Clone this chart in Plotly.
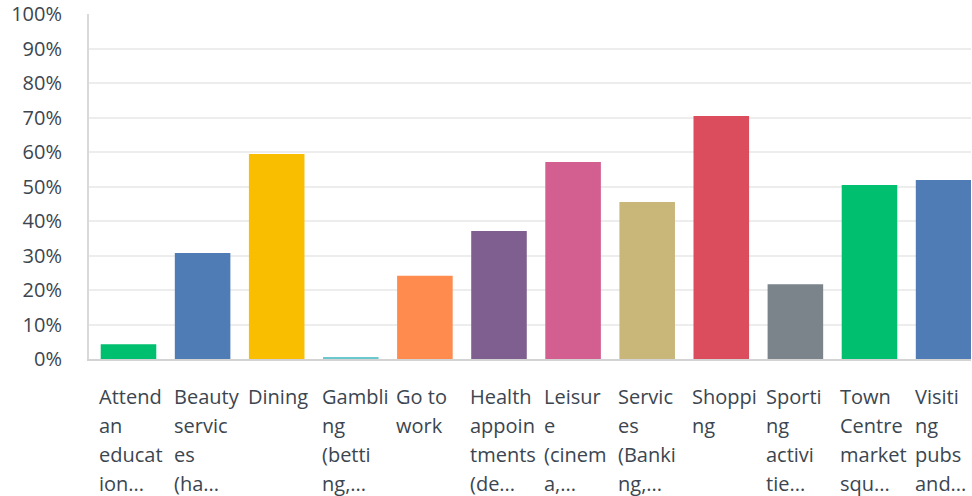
import plotly.graph_objects as go

# answer options, as wrapped/truncated in the survey chart
categories = [
    "Attend an education...",
    "Beauty services (ha...",
    "Dining",
    "Gambling (betting,...",
    "Go to work",
    "Health appointments (de...",
    "Leisure (cinema,...",
    "Services (Banking,...",
    "Shopping",
    "Sporting activitie...",
    "Town Centre market squ...",
    "Visiting pubs and...",
]
label_lines = [
    ["Attend", "an", "educat", "ion..."],
    ["Beauty", "servic", "es", "(ha..."],
    ["Dining"],
    ["Gambli", "ng", "(betti", "ng,..."],
    ["Go to", "work"],
    ["Health", "appoin", "tments", "(de..."],
    ["Leisur", "e", "(cinem", "a,..."],
    ["Servic", "es", "(Banki", "ng,..."],
    ["Shoppi", "ng"],
    ["Sporti", "ng", "activi", "tie..."],
    ["Town", "Centre", "market", "squ..."],
    ["Visiti", "ng", "pubs", "and..."],
]
percent = [4.3, 30.7, 59.4, 0.3, 24.1, 37.1, 57.1, 45.5, 70.4, 21.7, 50.4, 51.9]
colors = [
    "#00BF6F", "#507CB6", "#F9BE00", "#6BC8CD", "#FF8B4F", "#7F5F90",
    "#D25F90", "#C9B77A", "#DB4D5C", "#7B848B", "#00BF6F", "#507CB6",
]
y_ticks = list(range(0, 101, 10))

FONT = "Open Sans"
TEXT_COLOR = "#3b4650"
LINE_STEP = 29

fig = go.Figure()
fig.add_trace(go.Bar(
    x=list(range(len(categories))),
    y=percent,
    marker=dict(color=colors, line=dict(width=0)),
    hovertext=categories,
    showlegend=False,
))

# multi-line category labels, left aligned under each bar
for i, lines in enumerate(label_lines):
    for j, line in enumerate(lines):
        fig.add_annotation(
            x=i, y=0, xref="x", yref="paper",
            text=line, showarrow=False,
            xanchor="left", yanchor="middle",
            xshift=-31, yshift=-37 - LINE_STEP * j,
            font=dict(family=FONT, size=20, color=TEXT_COLOR),
        )

fig.update_layout(
    width=972, height=496,
    margin=dict(l=89, r=1, t=14, b=137, autoexpand=False),
    paper_bgcolor="white", plot_bgcolor="white",
    bargap=0.25,
    font=dict(family=FONT, size=20, color=TEXT_COLOR),
)
fig.update_xaxes(
    range=[-0.533, 11.37],
    showticklabels=False, showgrid=False, zeroline=False,
    showline=True, linecolor="#d3d3d3", linewidth=2,
)
fig.update_yaxes(
    range=[0, 100],
    tickvals=y_ticks, ticktext=[f"{v}%" for v in y_ticks],
    showgrid=True, gridcolor="#ededed", gridwidth=2,
    zeroline=False,
    showline=True, linecolor="#d9d9d9", linewidth=2,
    ticks="", ticklabelstandoff=21,
    tickfont=dict(family=FONT, size=20, color=TEXT_COLOR),
)

# drop the default 8px page margin so the figure fills the window exactly
fig.write_html(
    "out.html",
    config={"displayModeBar": False},
    post_script="document.body.style.margin = '0';",
)
